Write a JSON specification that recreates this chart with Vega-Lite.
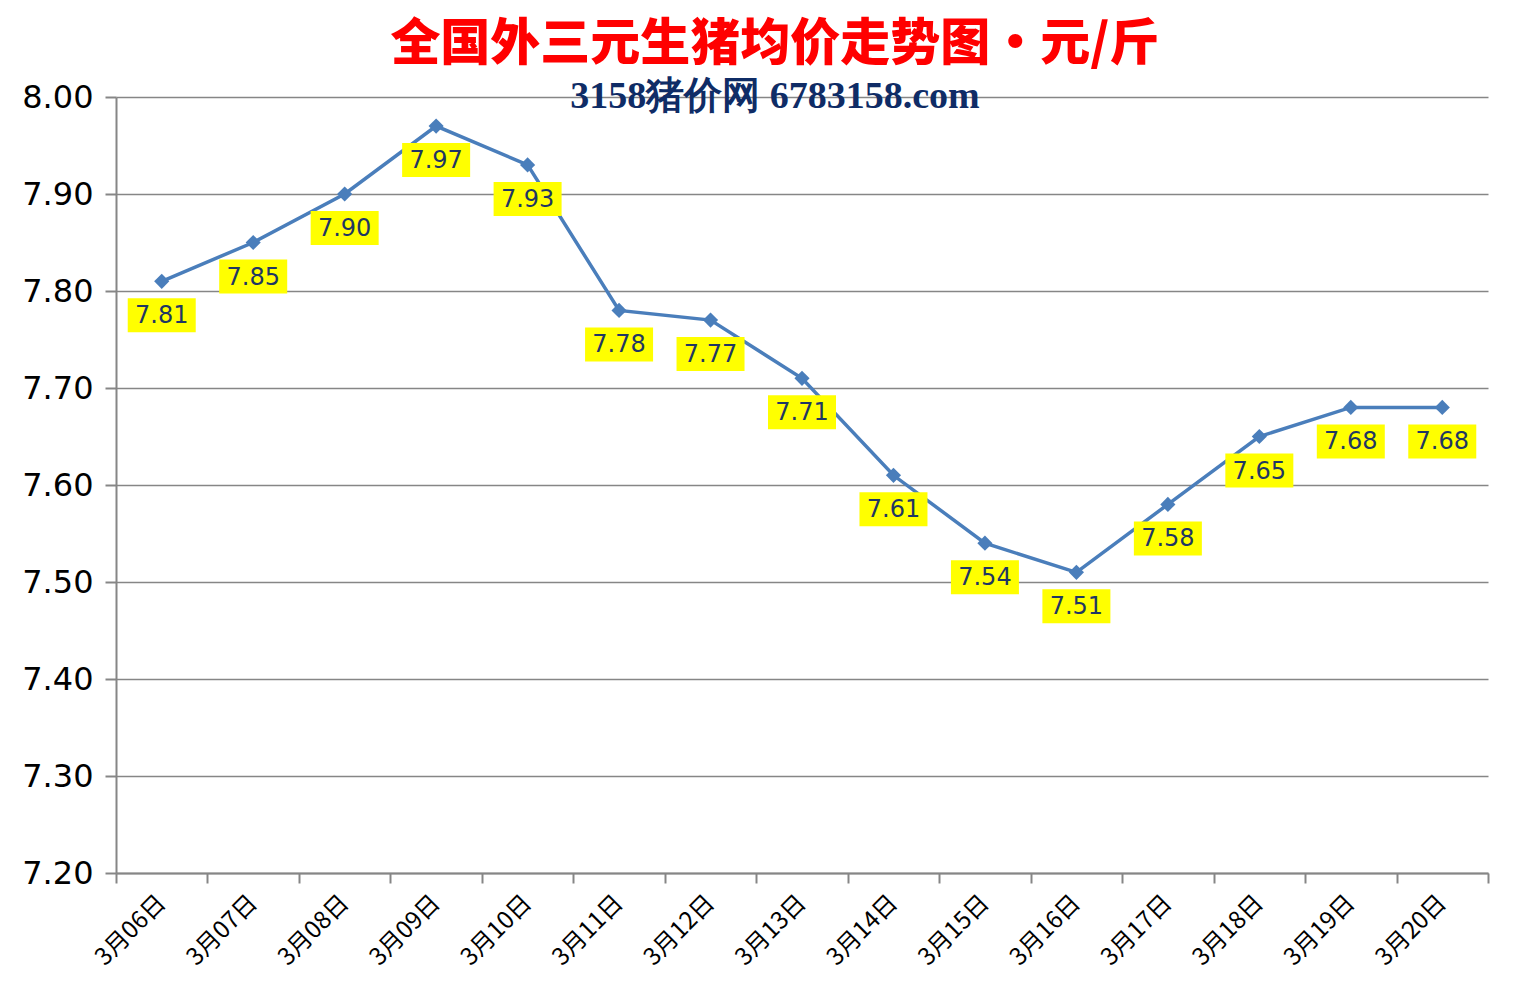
{
  "$schema": "https://vega.github.io/schema/vega-lite/v6.json",
  "width": 1372,
  "height": 776,
  "autosize": {"type": "none"},
  "padding": {"left": 116, "top": 97, "right": 43, "bottom": 113},
  "background": "white",
  "config": {
    "view": {"stroke": null},
    "font": "DejaVu Sans"
  },
  "title": {
    "text": "全国外三元生猪均价走势图·元/斤",
    "subtitle": "3158猪价网 6783158.com",
    "font": "Noto Sans CJK SC",
    "fontSize": 50,
    "fontWeight": 900,
    "color": "#ff0000",
    "subtitleFont": "Liberation Serif",
    "subtitleFontSize": 38,
    "subtitleFontWeight": "bold",
    "subtitleColor": "#0f2c66",
    "subtitlePadding": 8,
    "anchor": "middle",
    "dx": -27,
    "offset": -35
  },
  "data": {
    "values": [
      {"date": "3月06日", "price": 7.81},
      {"date": "3月07日", "price": 7.85},
      {"date": "3月08日", "price": 7.90},
      {"date": "3月09日", "price": 7.97},
      {"date": "3月10日", "price": 7.93},
      {"date": "3月11日", "price": 7.78},
      {"date": "3月12日", "price": 7.77},
      {"date": "3月13日", "price": 7.71},
      {"date": "3月14日", "price": 7.61},
      {"date": "3月15日", "price": 7.54},
      {"date": "3月16日", "price": 7.51},
      {"date": "3月17日", "price": 7.58},
      {"date": "3月18日", "price": 7.65},
      {"date": "3月19日", "price": 7.68},
      {"date": "3月20日", "price": 7.68}
    ]
  },
  "encoding": {
    "x": {
      "field": "date",
      "type": "ordinal",
      "sort": null,
      "scale": {"paddingInner": 0, "paddingOuter": 0},
      "axis": {
        "title": null,
        "labelAngle": -45,
        "labelAlign": "right",
        "labelBaseline": "middle",
        "labelFont": "Noto Sans CJK SC",
        "labelFontSize": 24,
        "labelColor": "#000000",
        "labelPadding": 16,
        "tickBand": "extent",
        "tickColor": "#868686",
        "tickWidth": 2,
        "tickSize": 10,
        "domainColor": "#868686",
        "domainWidth": 2,
        "grid": false
      }
    },
    "y": {
      "field": "price",
      "type": "quantitative",
      "scale": {"domain": [7.2, 8.0], "zero": false, "nice": false},
      "axis": {
        "title": null,
        "values": [7.2, 7.3, 7.4, 7.5, 7.6, 7.7, 7.8, 7.9, 8.0],
        "format": ".2f",
        "labelFont": "DejaVu Sans",
        "labelFontSize": 32,
        "labelColor": "#000000",
        "labelPadding": 12,
        "tickColor": "#868686",
        "tickWidth": 2,
        "tickSize": 11,
        "domainColor": "#868686",
        "domainWidth": 2,
        "grid": true,
        "gridColor": "#868686",
        "gridWidth": 1.5
      }
    }
  },
  "layer": [
    {
      "mark": {"type": "line", "color": "#4a7ebb", "strokeWidth": 3.5}
    },
    {
      "mark": {"type": "point", "shape": "diamond", "filled": true, "color": "#4a7ebb", "size": 230, "opacity": 1}
    },
    {
      "mark": {"type": "point", "shape": "M-1,-0.5H1V0.5H-1Z", "filled": true, "color": "#ffff00", "size": 4624, "opacity": 1, "yOffset": 34}
    },
    {
      "mark": {"type": "text", "color": "#1f3763", "fontSize": 24, "font": "DejaVu Sans", "yOffset": 35, "baseline": "middle"},
      "encoding": {"text": {"field": "price", "type": "quantitative", "format": ".2f"}}
    }
  ]
}
